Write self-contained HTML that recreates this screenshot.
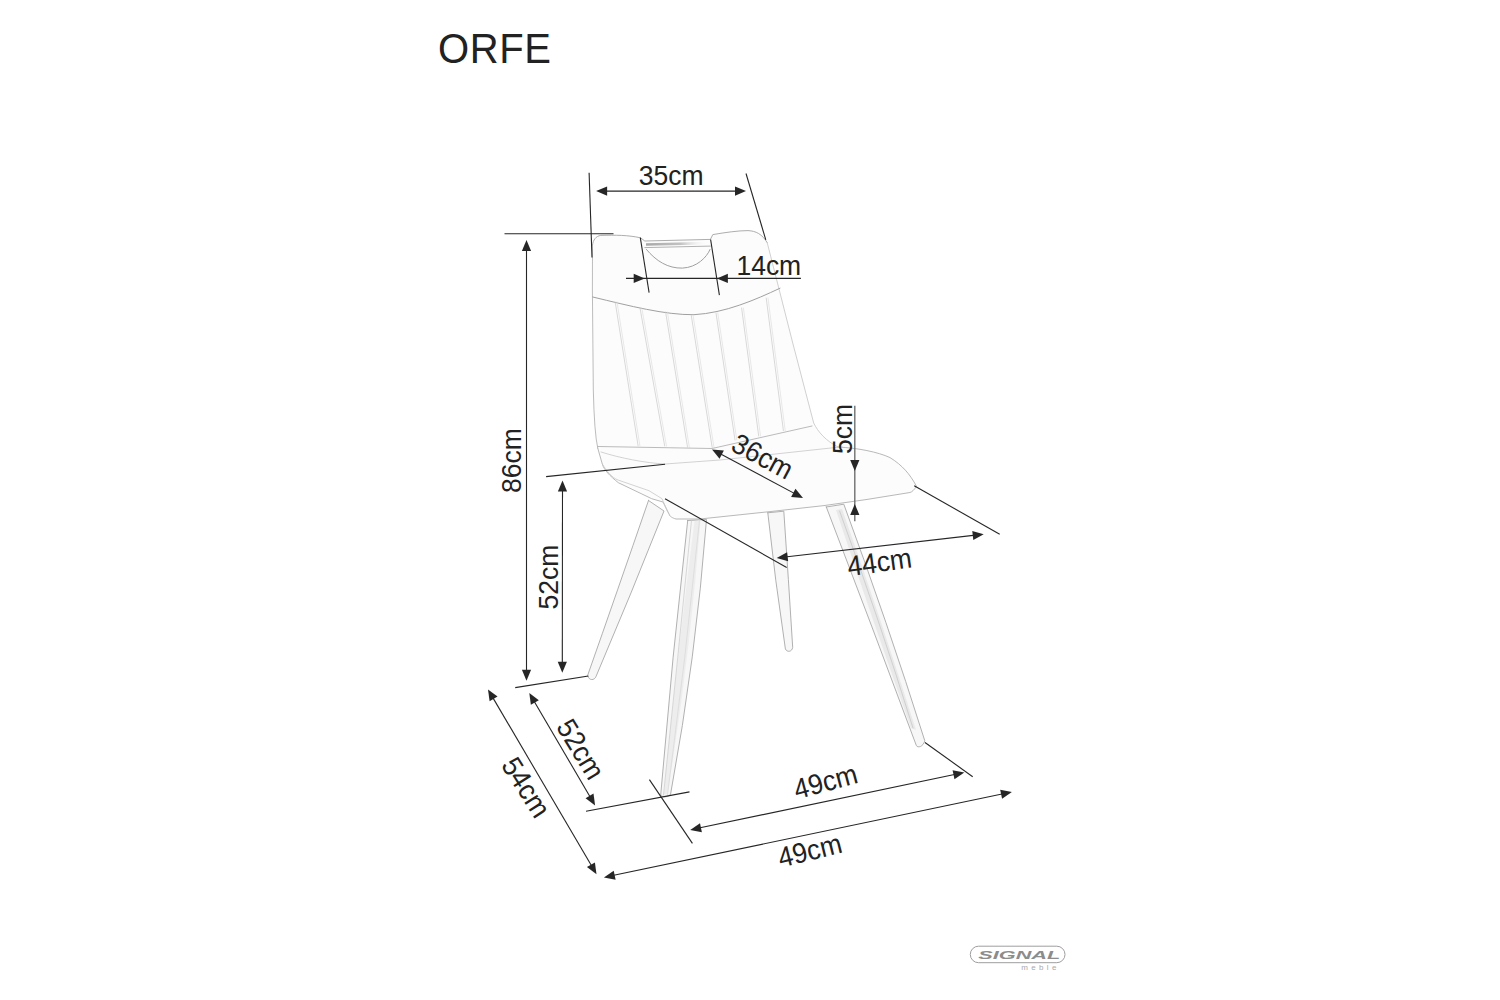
<!DOCTYPE html>
<html><head><meta charset="utf-8"><title>ORFE</title>
<style>
html,body{margin:0;padding:0;background:#fff;}
body{width:1500px;height:1000px;overflow:hidden;position:relative;}
svg{position:absolute;left:0;top:0;}
text{font-family:"Liberation Sans",sans-serif;fill:#222;}
</style></head>
<body>
<svg width="1500" height="1000" viewBox="0 0 1500 1000">
<rect width="1500" height="1000" fill="#fff"/>
<text x="0" y="0" font-size="40" text-anchor="start" letter-spacing="0.6" transform="translate(438.1 62.9) scale(1 1.07)">ORFE</text>
<g>
<path d="M600.8,235.4 C615,235 628,235 640.5,237.8 L644.8,241 L710.4,239.4 L712.8,234.6 C725,232.5 738,230.6 748,230.6 C756,231 762,234 767.2,242.6 L793,344 L813.7,423 C818,432 826,441 838,447 C858,448 878,452 890,457.6 C902,465 910,474 916.5,486.4 C914,490 912,492 910,492.5 L866,499.6 L824,505.6 L770,511.6 L700,519 L676,519 C672,518 670,516 670,516 L663,502 L651.7,498.7 L618.3,482.7 C610,476 604,470 602.3,464 L597.7,448 Q594.3,433 593.3,390 L592.4,290 L592.5,245 C593,240 596,236 600.8,235.4 Z" fill="#fcfcfc" stroke="none"/>
<path d="M592.5,245 C593,240 596,236 600.8,235.4 C615,235 628,235 640.5,237.8 L644.8,241 L710.4,239.4 L712.8,234.6 C725,232.5 738,230.6 748,230.6 C756,231 762,234 767.2,242.6" stroke="#a4a4a4" stroke-width="0.9" fill="none" stroke-linejoin="round" stroke-linecap="round"/>
<path d="M767.2,242.6 L793,344 L813.7,423 C818,432 826,441 838,447" stroke="#cbcbcb" stroke-width="0.9" fill="none" stroke-linejoin="round" stroke-linecap="round"/>
<path d="M838,447 C858,448 878,452 890,457.6 C902,465 910,474 916.5,486.4 C914,490 912,492 910,492.5 L866,499.6 L824,505.6 L770,511.6 L700,519 L676,519 C672,518 670,516 670,516 L663,502 L651.7,498.7 L618.3,482.7 C610,476 604,470 602.3,464 L597.7,448" stroke="#b0b0b0" stroke-width="0.9" fill="none" stroke-linejoin="round" stroke-linecap="round"/>
<path d="M597.7,448 Q594.3,433 593.3,390 L592.4,290 L592.5,245" stroke="#b4b4b4" stroke-width="0.9" fill="none" stroke-linejoin="round" stroke-linecap="round"/>
<path d="M646.5,249.5 C656,261 668,268.5 682.4,268.1 C697,267.5 707,257 710,249.5" stroke="#a0a0a0" stroke-width="1.0" fill="none" stroke-linejoin="round" stroke-linecap="round"/>
<path d="M644.8,247.6 L710.4,246.1" stroke="#a9a9a9" stroke-width="0.9" fill="none" stroke-linejoin="round" stroke-linecap="round"/>
<defs><linearGradient id="hg" x1="0" x2="1" y1="0" y2="0"><stop offset="0" stop-color="#9a9a9a"/><stop offset="0.55" stop-color="#b8b8b8"/><stop offset="1" stop-color="#ffffff" stop-opacity="0"/></linearGradient></defs>
<path d="M646,243.2 L709,241.8 L709,244.6 L646,245.8 Z" fill="url(#hg)" opacity="0.85"/>
<path d="M592.8,297 C630,306 665,315 694,314.7 C725,313 755,300 780,288.2" stroke="#a0a0a0" stroke-width="1.0" fill="none" stroke-linejoin="round" stroke-linecap="round"/>
<path d="M615.2,302 L638.1,445.8" stroke="#c8c8c8" stroke-width="0.7" fill="none" stroke-linejoin="round" stroke-linecap="round"/>
<path d="M617.0,302 L639.9,445.8" stroke="#dadada" stroke-width="0.6" fill="none" stroke-linejoin="round" stroke-linecap="round"/>
<path d="M640.0,308 L664.7,446" stroke="#c8c8c8" stroke-width="0.7" fill="none" stroke-linejoin="round" stroke-linecap="round"/>
<path d="M641.8,308 L666.5,446" stroke="#dadada" stroke-width="0.6" fill="none" stroke-linejoin="round" stroke-linecap="round"/>
<path d="M665.6,312 L687.5,447" stroke="#c8c8c8" stroke-width="0.7" fill="none" stroke-linejoin="round" stroke-linecap="round"/>
<path d="M667.4,312 L689.3,447" stroke="#dadada" stroke-width="0.6" fill="none" stroke-linejoin="round" stroke-linecap="round"/>
<path d="M691.2,315 L712.2,447.5" stroke="#c8c8c8" stroke-width="0.7" fill="none" stroke-linejoin="round" stroke-linecap="round"/>
<path d="M693.0,315 L714.0,447.5" stroke="#dadada" stroke-width="0.6" fill="none" stroke-linejoin="round" stroke-linecap="round"/>
<path d="M716.0,313 L735.0,440" stroke="#c8c8c8" stroke-width="0.7" fill="none" stroke-linejoin="round" stroke-linecap="round"/>
<path d="M717.8,313 L736.8,440" stroke="#dadada" stroke-width="0.6" fill="none" stroke-linejoin="round" stroke-linecap="round"/>
<path d="M741.6,308 L758.7,436" stroke="#c8c8c8" stroke-width="0.7" fill="none" stroke-linejoin="round" stroke-linecap="round"/>
<path d="M743.4,308 L760.5,436" stroke="#dadada" stroke-width="0.6" fill="none" stroke-linejoin="round" stroke-linecap="round"/>
<path d="M766.2,298 L783.4000000000001,430.6" stroke="#c8c8c8" stroke-width="0.7" fill="none" stroke-linejoin="round" stroke-linecap="round"/>
<path d="M768.0,298 L785.2,430.6" stroke="#dadada" stroke-width="0.6" fill="none" stroke-linejoin="round" stroke-linecap="round"/>
<path d="M598,446.5 L712,448.5 L812,426" stroke="#a9a9a9" stroke-width="0.8" fill="none" stroke-linejoin="round" stroke-linecap="round"/>
<path d="M601,452 C620,458 645,463 665,464 L720,460 L842,446.8" stroke="#c8c8c8" stroke-width="0.8" fill="none" stroke-linejoin="round" stroke-linecap="round"/>
<path d="M602.3,464 C606,470 612,478 618,480 L649,490.7 L662,498.7 L667.7,512" stroke="#c8c8c8" stroke-width="0.8" fill="none" stroke-linejoin="round" stroke-linecap="round"/>
<path d="M648.5,500.5 L664,511 Q632,592 596,676.5 C594.5,680.5 589,681 587.6,675.5 Q617,592 648.5,500.5 Z" stroke="#a8a8a8" stroke-width="0.9" fill="#f7f7f7" stroke-linejoin="round" stroke-linecap="round"/>
<path d="M687.7,520.5 L706.5,519.5 Q696,657 670.6,794 C669,797.5 662,797.5 660.7,795 Q672,657 687.7,520.5 Z" stroke="#a8a8a8" stroke-width="0.9" fill="#f7f7f7" stroke-linejoin="round" stroke-linecap="round"/>
<path d="M694.5,521 L700.5,520.5 Q690,657 667.5,794 L664,794.5 Q677,657 694.5,521 Z" fill="#ededed"/>
<path d="M691.5,520.5 Q678,657 663.5,795" stroke="#c8c8c8" stroke-width="0.7" fill="none" stroke-linejoin="round" stroke-linecap="round"/>
<path d="M699.5,520.5 Q686,657 667.5,795" stroke="#d4d4d4" stroke-width="0.6" fill="none" stroke-linejoin="round" stroke-linecap="round"/>
<path d="M767.8,512.8 L783.8,511.2 Q788.5,580 792.7,647.4 C792,652 787,652.5 785.4,649 Q775,580 767.8,512.8 Z" stroke="#a8a8a8" stroke-width="0.9" fill="#f7f7f7" stroke-linejoin="round" stroke-linecap="round"/>
<path d="M826.3,507 L843.8,504.2 Q887.5,622.5 924.8,740.8 C923,747 918,748 916.4,745.7 Q872,626 826.3,507 Z" stroke="#a8a8a8" stroke-width="0.9" fill="#f7f7f7" stroke-linejoin="round" stroke-linecap="round"/>
<path d="M836,510 L842,509 Q882,622 916,730 L911,728 Q873,622 836,510 Z" fill="#e9e9e9"/>
<path d="M839.6,511 Q880,622 913,728" stroke="#c4c4c4" stroke-width="0.7" fill="none" stroke-linejoin="round" stroke-linecap="round"/>
</g>
<g>
<line x1="589.1" y1="172.7" x2="592" y2="257.5" stroke="#262626" stroke-width="1.1"/>
<line x1="746" y1="173.5" x2="765.8" y2="239.8" stroke="#262626" stroke-width="1.1"/>
<line x1="600.1" y1="191.1" x2="742.0" y2="191.1" stroke="#262626" stroke-width="1.1"/>
<polygon points="746.00,191.10 735.00,195.70 735.00,186.50" fill="#262626"/>
<polygon points="596.10,191.10 607.10,186.50 607.10,195.70" fill="#262626"/>
<text x="0" y="0" font-size="26.5" text-anchor="middle" transform="translate(671.2 184.5) rotate(0) scale(1 1.07)">35cm</text>
<line x1="504.5" y1="233.8" x2="613.5" y2="233.8" stroke="#262626" stroke-width="1.1"/>
<line x1="526.5" y1="244.0" x2="526.5" y2="676.8" stroke="#262626" stroke-width="1.1"/>
<polygon points="526.50,680.80 521.90,669.80 531.10,669.80" fill="#262626"/>
<polygon points="526.50,240.00 531.10,251.00 521.90,251.00" fill="#262626"/>
<text x="0" y="0" font-size="26.5" text-anchor="middle" transform="translate(521 460.5) rotate(-90) scale(1 1.07)">86cm</text>
<line x1="626" y1="278.4" x2="800.9" y2="278.4" stroke="#262626" stroke-width="1.1"/>
<polygon points="644.70,278.40 633.70,283.00 633.70,273.80" fill="#262626"/>
<polygon points="716.90,278.40 727.90,273.80 727.90,283.00" fill="#262626"/>
<line x1="640.3" y1="237.6" x2="649.1" y2="292.7" stroke="#262626" stroke-width="1.1"/>
<line x1="710.6" y1="239.5" x2="719.4" y2="295.2" stroke="#262626" stroke-width="1.1"/>
<text x="0" y="0" font-size="26.5" text-anchor="middle" transform="translate(768.8 275.3) rotate(0) scale(1 1.07)">14cm</text>
<line x1="546.1" y1="476.6" x2="665.1" y2="464.3" stroke="#262626" stroke-width="1.1"/>
<line x1="562.5" y1="484.5" x2="562.3" y2="668.8" stroke="#262626" stroke-width="1.1"/>
<polygon points="562.30,672.80 557.71,661.80 566.91,661.80" fill="#262626"/>
<polygon points="562.50,480.50 567.09,491.50 557.89,491.50" fill="#262626"/>
<text x="0" y="0" font-size="26.5" text-anchor="middle" transform="translate(557.5 577) rotate(-90) scale(1 1.07)">52cm</text>
<line x1="515.2" y1="687.6" x2="588.4" y2="676" stroke="#262626" stroke-width="1.1"/>
<line x1="715.53" y1="451.28" x2="799.47" y2="496.12" stroke="#262626" stroke-width="1.1"/>
<polygon points="803.00,498.00 791.13,496.88 795.46,488.76" fill="#262626"/>
<polygon points="712.00,449.40 723.87,450.52 719.54,458.64" fill="#262626"/>
<text x="0" y="0" font-size="26.5" text-anchor="middle" transform="translate(758 465) rotate(28) scale(1 1.07)">36cm</text>
<line x1="854.8" y1="405.7" x2="854.8" y2="521.2" stroke="#6a6a6a" stroke-width="1.35"/>
<polygon points="854.80,471.00 850.20,460.00 859.40,460.00" fill="#262626"/>
<polygon points="854.80,504.00 859.40,515.00 850.20,515.00" fill="#262626"/>
<text x="0" y="0" font-size="26.5" text-anchor="middle" transform="translate(852.2 429) rotate(-90) scale(1 1.07)">5cm</text>
<line x1="665" y1="498.7" x2="786.7" y2="567.5" stroke="#262626" stroke-width="1.1"/>
<line x1="914.2" y1="485.8" x2="999.7" y2="534.2" stroke="#262626" stroke-width="1.1"/>
<line x1="780.67" y1="557.54" x2="979.73" y2="534.66" stroke="#262626" stroke-width="1.1"/>
<polygon points="983.70,534.20 973.30,540.03 972.25,530.89" fill="#262626"/>
<polygon points="776.70,558.00 787.10,552.17 788.15,561.31" fill="#262626"/>
<text x="0" y="0" font-size="26.5" text-anchor="middle" transform="translate(880.8 571.7) rotate(-8) scale(1 1.07)">44cm</text>
<line x1="490.03" y1="692.85" x2="594.47" y2="870.75" stroke="#262626" stroke-width="1.1"/>
<polygon points="596.50,874.20 586.96,867.04 594.90,862.39" fill="#262626"/>
<polygon points="488.00,689.40 497.54,696.56 489.60,701.21" fill="#262626"/>
<text x="0" y="0" font-size="26.5" text-anchor="middle" transform="translate(518 792.5) rotate(57.5) scale(1 1.07)">54cm</text>
<line x1="531.32" y1="696.45" x2="593.08" y2="801.95" stroke="#262626" stroke-width="1.1"/>
<polygon points="595.10,805.40 585.57,798.23 593.51,793.58" fill="#262626"/>
<polygon points="529.30,693.00 538.83,700.17 530.89,704.82" fill="#262626"/>
<text x="0" y="0" font-size="26.5" text-anchor="middle" transform="translate(572.4 754.3) rotate(58.5) scale(1 1.07)">52cm</text>
<line x1="586" y1="811.2" x2="689.5" y2="791.9" stroke="#262626" stroke-width="1.1"/>
<line x1="649.4" y1="779.6" x2="692.4" y2="843.4" stroke="#262626" stroke-width="1.1"/>
<line x1="694.11" y1="829.08" x2="960.39" y2="773.22" stroke="#262626" stroke-width="1.1"/>
<polygon points="964.30,772.40 954.48,779.16 952.59,770.16" fill="#262626"/>
<polygon points="690.20,829.90 700.02,823.14 701.91,832.14" fill="#262626"/>
<line x1="925" y1="742.5" x2="972.7" y2="776.7" stroke="#262626" stroke-width="1.1"/>
<text x="0" y="0" font-size="26.5" text-anchor="middle" transform="translate(828 791) rotate(-15) scale(1 1.07)">49cm</text>
<line x1="607.82" y1="876.58" x2="1007.98" y2="792.82" stroke="#262626" stroke-width="1.1"/>
<polygon points="1011.90,792.00 1002.08,798.76 1000.19,789.75" fill="#262626"/>
<polygon points="603.90,877.40 613.72,870.64 615.61,879.65" fill="#262626"/>
<text x="0" y="0" font-size="26.5" text-anchor="middle" transform="translate(812.2 860) rotate(-14) scale(1 1.07)">49cm</text>
</g>

<rect x="970.3" y="946.2" width="94.7" height="16.5" rx="8.2" ry="8.2" fill="none" stroke="#9e9e9e" stroke-width="1"/>
<text x="0" y="0" font-size="12" font-weight="bold" font-style="italic" text-anchor="middle" style="fill:#8c8c8c" textLength="82" lengthAdjust="spacingAndGlyphs" transform="translate(1019.3 958.8) scale(1 0.92)">SIGNAL</text>
<text x="1040.5" y="970" font-size="8" text-anchor="middle" style="fill:#a8a8a8" letter-spacing="3.3">meble</text>

</svg>
</body></html>
